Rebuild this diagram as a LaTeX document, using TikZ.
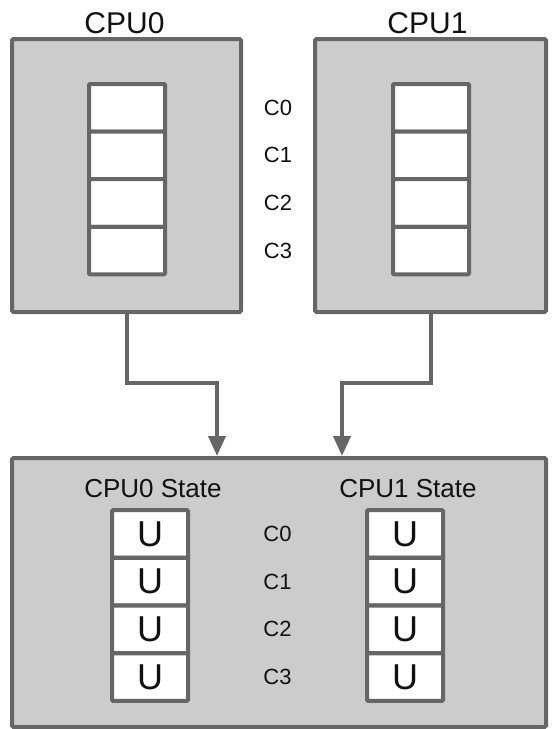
\documentclass[tikz,border=0pt]{standalone}
\usepackage{fontspec}
\setmainfont{Liberation Sans}
\usetikzlibrary{arrows.meta}
\definecolor{boxgray}{HTML}{CCCCCC}
\definecolor{edgegray}{HTML}{666666}
\definecolor{inkblack}{HTML}{111111}
\begin{document}
\begin{tikzpicture}[x=1pt,y=-1pt,
  panel/.style={draw=edgegray,fill=boxgray,line width=4pt,rounded corners=1.5pt,inner sep=0pt},
  cellbox/.style={draw=edgegray,fill=white,line width=4pt,rounded corners=1pt,minimum width=76pt,minimum height=47.6pt,inner sep=0pt,text=inkblack,font=\fontsize{36}{36}\selectfont},
  titletext/.style={inner sep=0pt,text=inkblack,font=\fontsize{30}{30}\selectfont},
  statetext/.style={inner sep=0pt,text=inkblack,font=\fontsize{26}{26}\selectfont},
  ctext/.style={inner sep=0pt,text=inkblack,font=\fontsize{22}{22}\selectfont},
  conn/.style={draw=edgegray,line width=4pt,-{Triangle[length=20pt,width=17pt]}}
]
\useasboundingbox (0,0) rectangle (552,729);

% top panels
\node[panel,minimum width=229pt,minimum height=273pt] (cpu0) at (126.5,175.5) {};
\node[panel,minimum width=231pt,minimum height=273pt] (cpu1) at (430.5,175.5) {};
\node[titletext] (t0) at (124.5,23) {CPU0};
\node[titletext] (t1) at (427.5,23) {CPU1};

% top cells
\foreach \i/\y in {0/107.8,1/155.4,2/203.0,3/250.6}{
  \node[cellbox] (a\i) at (127,\y) {};
  \node[cellbox] (b\i) at (431,\y) {};
  \node[ctext] (c\i) at (278,\y) {C\i};
}

% bottom panel
\node[panel,minimum width=534pt,minimum height=269pt] (state) at (279,592.5) {};
\node[statetext] (s0) at (153,489) {CPU0 State};
\node[statetext] (s1) at (408,489) {CPU1 State};
\foreach \i/\y in {0/533.9,1/581.6,2/629.4,3/677.1}{
  \node[cellbox] (u\i) at (150,\y) {U};
  \node[cellbox] (v\i) at (405,\y) {U};
  \node[ctext] (d\i) at (277.5,\y) {C\i};
}

% connectors
\coordinate (k0) at (217,383);
\coordinate (k1) at (342,383);
\draw[conn] (cpu0.south) |- (k0) -- (k0 |- state.north);
\draw[conn] (cpu1.south) |- (k1) -- (k1 |- state.north);
\end{tikzpicture}
\end{document}
